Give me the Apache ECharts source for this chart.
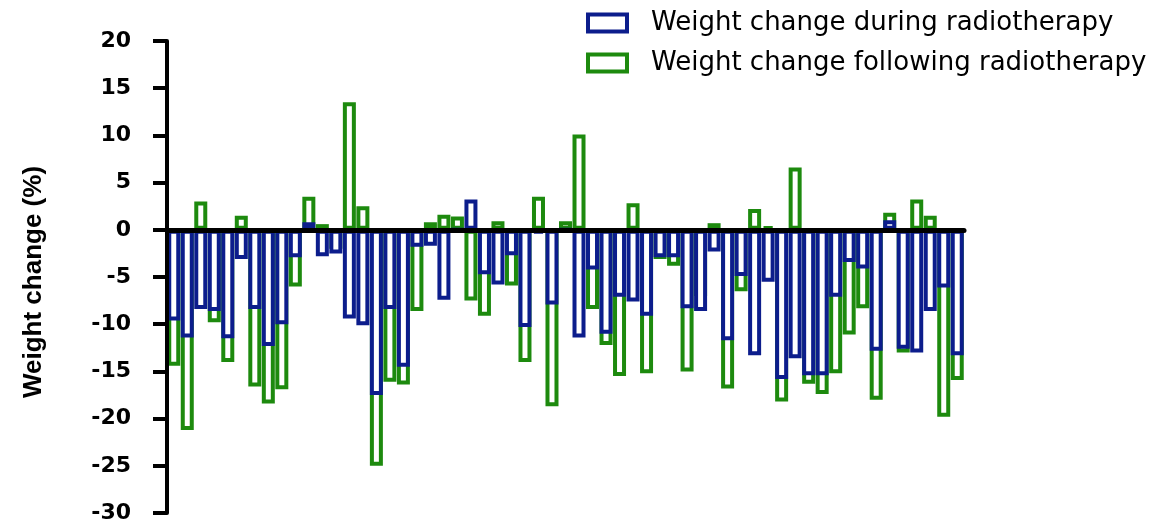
<!DOCTYPE html>
<html>
<head>
<meta charset="utf-8">
<script src="https://cdn.jsdelivr.net/npm/echarts@6/dist/echarts.min.js"></script>
<style>
  html, body { margin: 0; padding: 0; background: #fff; }
  #chart { width: 1162px; height: 526px; }
</style>
</head>
<body>
<div id="chart"></div>
<script>
// weight change (%) per patient
const during = [
  -9.6, -11.4, -8.4, -8.6, -11.5, -3.1, -8.4, -12.3, -10.0, -2.9,
  0.8, -2.8, -2.5, -9.4, -10.1, -17.5, -8.4, -14.5, -1.8, -1.7,
  -7.4, 0, 3.2, -4.7, -5.8, -2.7, -10.3, -0.4, -7.9, 0,
  -11.4, -4.2, -11.0, -7.1, -7.6, -9.1, -2.9, -2.9, -8.3, -8.6,
  -2.3, -11.7, -4.9, -13.3, -5.5, -15.8, -13.6, -15.4, -15.4, -7.1,
  -3.4, -4.1, -12.8, 1.0, -12.6, -13.0, -8.6, -6.1, -13.3,
];
const following = [
  -14.4, -21.2, 3.0, -9.8, -14.0, 1.5, -16.6, -18.4, -16.9, -6.0,
  3.5, 0.6, -2.0, 13.5, 2.5, -25.0, -16.1, -16.4, -8.6, 0.8,
  1.6, 1.4, -7.5, -9.1, 0.9, -5.9, -14.0, 3.5, -18.7, 0.9,
  10.1, -8.4, -12.2, -15.5, 2.8, -15.2, -3.1, -3.8, -15.0, -7.0,
  0.7, -16.8, -6.5, 2.2, 0.4, -18.2, 6.6, -16.3, -17.4, -15.2,
  -11.1, -8.3, -18.0, 1.8, -13.0, 3.2, 1.5, -19.8, -15.9,
];
const patients = during.map((_, i) => 'P' + (i + 1));
const yTicks = { min: -30, max: 20, step: 5 };

const BLUE = '#0c1d8c';
const GREEN = '#1d8a0e';
const ARIAL = '"Liberation Sans", Arial, sans-serif';
const WIDE = '"DejaVu Sans", sans-serif';

const chart = echarts.init(document.getElementById('chart'));
chart.setOption({
  animation: false,
  grid: { left: 167, right: 198, top: 41, bottom: 13 },
  legend: {
    orient: 'vertical', left: 586, top: 8, padding: 0,
    itemWidth: 39, itemHeight: 17, itemGap: 10,
    icon: 'rect',
    textStyle: { fontFamily: WIDE, fontSize: 26, color: '#000', lineHeight: 30, padding: [0, 0, 0, 19] },
    data: [
      { name: 'Weight change during radiotherapy', itemStyle: { color: '#fff', borderColor: BLUE, borderWidth: 4 } },
      { name: 'Weight change following radiotherapy', itemStyle: { color: '#fff', borderColor: GREEN, borderWidth: 4 } },
    ],
  },
  xAxis: {
    type: 'category', data: patients, z: 5,
    axisLine: { onZero: true, lineStyle: { color: '#000', width: 5 } },
    axisTick: { show: false }, axisLabel: { show: false },
  },
  yAxis: {
    type: 'value', min: yTicks.min, max: yTicks.max, interval: yTicks.step, z: 5,
    name: 'Weight change (%)', nameLocation: 'middle', nameGap: 120,
    // padding on the right nudges the rotated title a little lower
    nameTextStyle: { fontFamily: ARIAL, fontSize: 26, fontWeight: 'bold', color: '#000', padding: [0, 10, 0, 0] },
    axisLine: { show: true, lineStyle: { color: '#000', width: 4 } },
    axisTick: { show: true, length: 14, lineStyle: { color: '#000', width: 4 } },
    axisLabel: { fontFamily: WIDE, fontSize: 22, fontWeight: 'bold', color: '#000', margin: 36 },
    splitLine: { show: false },
  },
  series: [
    {
      // drawn first so the blue bars sit on top
      name: 'Weight change following radiotherapy', type: 'bar', data: following,
      barWidth: 13, barGap: '-100%', z: 1,
      itemStyle: { color: '#fff', borderColor: GREEN, borderWidth: 4 },
    },
    {
      name: 'Weight change during radiotherapy', type: 'bar', data: during,
      barWidth: 13, barGap: '-100%', z: 2,
      itemStyle: { color: '#fff', borderColor: BLUE, borderWidth: 4 },
    },
  ],
});
</script>
</body>
</html>
